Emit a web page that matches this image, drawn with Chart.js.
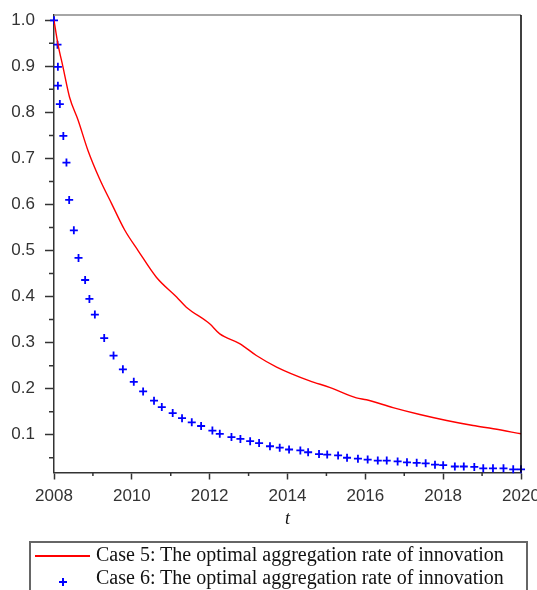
<!DOCTYPE html>
<html>
<head>
<meta charset="utf-8">
<script src="https://cdn.jsdelivr.net/npm/chart.js"></script>
<style>
  html, body { margin: 0; padding: 0; background: #fff; overflow: hidden; }
  #wrap { position: relative; width: 537px; height: 590px; }
  #legend {
    position: absolute; left: 29px; top: 541px; width: 495px; height: 80px;
    border: 2px solid #666; font-family: "Liberation Serif", serif; font-size: 20px; color: #111;
  }
  .row { position: relative; height: 23px; line-height: 23px; white-space: nowrap; }
  .row .txt { position: absolute; left: 65px; top: 0; }
  .mark-line { position: absolute; left: 4px; top: 12px; width: 55px; height: 1.5px; }
  .mark-cross { position: absolute; left: 28px; top: 12px; width: 8px; height: 8px; }
  .mark-cross::before, .mark-cross::after { content: ""; position: absolute; background: currentColor; }
  .mark-cross::before { left: 0; top: 3px; width: 8px; height: 2px; }
  .mark-cross::after { left: 3px; top: 0; width: 2px; height: 8px; }
</style>
</head>
<body>
<div id="wrap">
  <canvas id="chart"></canvas>
  <div id="legend"></div>
</div>
<script>
// Case 5 curve
const case5Years = [2008.0, 2008.10, 2008.23, 2008.40, 2008.62, 2008.87, 2009.17, 2009.48, 2009.82,
  2010.16, 2010.63, 2011.15, 2011.40, 2012.00, 2012.26, 2012.77, 2013.20, 2013.72, 2014.57,
  2015.08, 2015.77, 2016.03, 2016.71, 2017.40, 2018.09, 2018.77, 2019.29, 2020.0];
const case5Values = [1.0, 0.949, 0.899, 0.833, 0.783, 0.718, 0.656, 0.602, 0.544,
  0.500, 0.442, 0.399, 0.377, 0.341, 0.319, 0.298, 0.272, 0.247, 0.217,
  0.203, 0.180, 0.176, 0.159, 0.144, 0.131, 0.120, 0.113, 0.102];

// Case 6 points
const case6Years = [2008.0, 2008.09, 2008.10, 2008.10, 2008.15, 2008.24, 2008.32, 2008.39, 2008.51,
  2008.63, 2008.80, 2008.91, 2009.05, 2009.29, 2009.53, 2009.77, 2010.05, 2010.29, 2010.57,
  2010.77, 2011.05, 2011.29, 2011.54, 2011.78, 2012.07, 2012.26, 2012.56, 2012.79, 2013.04,
  2013.27, 2013.55, 2013.80, 2014.04, 2014.33, 2014.53, 2014.81, 2015.02, 2015.30, 2015.53,
  2015.81, 2016.06, 2016.32, 2016.55, 2016.83, 2017.07, 2017.32, 2017.55, 2017.79, 2018.00,
  2018.30, 2018.53, 2018.80, 2019.03, 2019.28, 2019.55, 2019.80, 2020.0];
const case6Values = [1.0, 0.947, 0.899, 0.858, 0.818, 0.749, 0.691, 0.610, 0.544,
  0.484, 0.436, 0.395, 0.361, 0.310, 0.272, 0.242, 0.215, 0.194, 0.174,
  0.160, 0.147, 0.136, 0.127, 0.119, 0.109, 0.102, 0.095, 0.091, 0.086,
  0.082, 0.075, 0.072, 0.068, 0.066, 0.062, 0.058, 0.057, 0.055, 0.050,
  0.048, 0.046, 0.044, 0.044, 0.042, 0.040, 0.039, 0.038, 0.035, 0.034,
  0.031, 0.031, 0.030, 0.027, 0.027, 0.027, 0.025, 0.025];

const seriesLabels = ['Case 5: The optimal aggregation rate of innovation',
  'Case 6: The optimal aggregation rate of innovation'];

// ticks
const xTicks = [2008, 2010, 2012, 2014, 2016, 2018, 2020];
const xMinorTicks = [2009, 2011, 2013, 2015, 2017, 2019];
const yTicks = [0.1, 0.2, 0.3, 0.4, 0.5, 0.6, 0.7, 0.8, 0.9, 1.0];
const yMinorTicks = [0.05, 0.15, 0.25, 0.35, 0.45, 0.55, 0.65, 0.75, 0.85, 0.95];

const axisColor = '#333';
const tickFont = { family: 'Liberation Sans', size: 17 };

// short ticks between the labelled ones, plus the top/right frame
const minorTicksAndFrame = {
  id: 'minorTicksAndFrame',
  afterDraw(chart) {
    const { ctx, chartArea, scales: { x, y } } = chart;
    ctx.save();
    ctx.strokeStyle = axisColor;
    ctx.lineWidth = 1.5;
    ctx.beginPath();
    xMinorTicks.forEach(v => {
      const px = x.getPixelForValue(v);
      ctx.moveTo(px, chartArea.bottom);
      ctx.lineTo(px, chartArea.bottom + 3.5);
    });
    yMinorTicks.forEach(v => {
      const py = y.getPixelForValue(v);
      ctx.moveTo(chartArea.left, py);
      ctx.lineTo(chartArea.left - 5, py);
    });
    ctx.stroke();

    ctx.beginPath();
    ctx.strokeStyle = '#888';
    ctx.moveTo(chartArea.left, chartArea.top);
    ctx.lineTo(chartArea.right, chartArea.top);
    ctx.stroke();

    ctx.beginPath();
    ctx.strokeStyle = '#000';
    ctx.moveTo(chartArea.right, chartArea.top);
    ctx.lineTo(chartArea.right, chartArea.bottom);
    ctx.stroke();
    ctx.restore();
  }
};

// html legend built from the datasets
const htmlLegend = {
  id: 'htmlLegend',
  afterUpdate(chart) {
    const box = document.getElementById('legend');
    box.innerHTML = '';
    chart.data.datasets.forEach(ds => {
      const row = document.createElement('div');
      row.className = 'row';
      const mark = document.createElement('span');
      if (ds.showLine) {
        mark.className = 'mark-line';
        mark.style.background = ds.borderColor;
      } else {
        mark.className = 'mark-cross';
        mark.style.color = ds.pointBorderColor;
      }
      const txt = document.createElement('span');
      txt.className = 'txt';
      txt.textContent = ds.label;
      row.appendChild(mark);
      row.appendChild(txt);
      box.appendChild(row);
    });
  }
};

new Chart(document.getElementById('chart'), {
  type: 'scatter',
  data: {
    datasets: [
      {
        label: seriesLabels[0],
        data: case5Years.map((t, i) => ({ x: t, y: case5Values[i] })),
        showLine: true,
        borderColor: '#ff0000',
        borderWidth: 1.4,
        pointRadius: 0,
        cubicInterpolationMode: 'monotone'
      },
      {
        label: seriesLabels[1],
        data: case6Years.map((t, i) => ({ x: t, y: case6Values[i] })),
        showLine: false,
        pointStyle: 'cross',
        pointRadius: 4,
        pointBorderWidth: 1.8,
        pointBorderColor: '#0000ff',
        pointBackgroundColor: '#0000ff',
        clip: false
      }
    ]
  },
  options: {
    responsive: true,
    maintainAspectRatio: false,
    animation: false,
    layout: { padding: { top: 15, right: 16, left: 0, bottom: 0 } },
    plugins: {
      legend: { display: false },
      tooltip: { enabled: false }
    },
    scales: {
      x: {
        type: 'linear',
        min: 2008,
        max: 2020,
        afterBuildTicks: scale => { scale.ticks = xTicks.map(v => ({ value: v })); },
        afterFit: scale => { scale.height = 117.5; scale.paddingLeft = 0; scale.paddingRight = 0; },
        ticks: { font: tickFont, color: axisColor, padding: 7, maxRotation: 0, callback: v => String(v) },
        grid: { drawOnChartArea: false, drawTicks: true, tickLength: 7, tickColor: axisColor, tickWidth: 1.5 },
        border: { display: true, color: axisColor, width: 1.5 },
        title: {
          display: true,
          text: 't',
          color: '#111',
          font: { family: 'Liberation Serif', size: 18, style: 'italic' },
          padding: { top: 0, bottom: 60 }
        }
      },
      y: {
        type: 'linear',
        min: 0.018,
        max: 1.0115,
        afterBuildTicks: scale => { scale.ticks = yTicks.map(v => ({ value: v })); },
        afterFit: scale => { scale.width = 54; scale.paddingTop = 0; scale.paddingBottom = 0; },
        ticks: { font: tickFont, color: axisColor, padding: 10, callback: v => v.toFixed(1) },
        grid: { drawOnChartArea: false, drawTicks: true, tickLength: 9, tickColor: axisColor, tickWidth: 1.5 },
        border: { display: true, color: axisColor, width: 1.5 }
      }
    }
  },
  plugins: [minorTicksAndFrame, htmlLegend]
});
</script>
</body>
</html>
